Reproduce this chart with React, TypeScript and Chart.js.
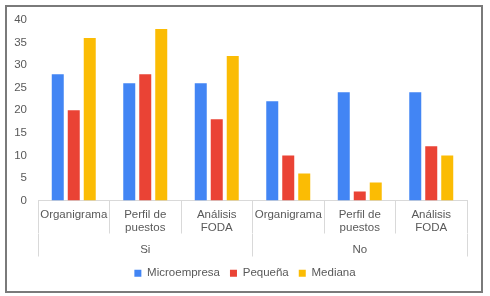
import React, { useEffect, useRef } from "react";
import { Chart, registerables } from "chart.js";

Chart.register(...registerables);

const categories: string[][] = [
  ["Organigrama"],
  ["Perfil de", "puestos"],
  ["Análisis", "FODA"],
  ["Organigrama"],
  ["Perfil de", "puestos"],
  ["Análisis", "FODA"],
];
const groups: string[] = ["Si", "No"];
const microempresa: number[] = [28, 26, 26, 22, 24, 24];
const pequena: number[] = [20, 28, 18, 10, 2, 12];
const mediana: number[] = [36, 38, 32, 6, 4, 10];
const yTicksMax = 40;
const yStep = 5;

const FONT = "'Liberation Sans', Arial, sans-serif";
const TEXT = "#595959";
const LINE = "#d9d9d9";

const legendShift = {
  id: "legendShift",
  afterLayout(chart: any) {
    const l = chart.legend;
    if (l) {
      l.left += 8;
      l.right += 8;
    }
  },
};

export default function App() {
  const ref = useRef<HTMLCanvasElement | null>(null);

  useEffect(() => {
    if (!ref.current) return;
    Chart.defaults.font.family = FONT;
    Chart.defaults.font.size = 11.5;
    Chart.defaults.color = TEXT;
    const chart = new Chart(ref.current, {
      type: "bar",
      data: {
        labels: categories as any,
        datasets: [
          { label: "Microempresa", data: microempresa, backgroundColor: "#4285F4" },
          { label: "Pequeña", data: pequena, backgroundColor: "#EA4335" },
          { label: "Mediana", data: mediana, backgroundColor: "#FBBC04" },
        ],
      },
      plugins: [legendShift],
      options: {
        animation: false,
        responsive: true,
        maintainAspectRatio: false,
        datasets: {
          bar: { categoryPercentage: 0.671, barPercentage: 0.75 },
        },
        layout: { padding: { left: 0, right: 14, top: 13, bottom: 2 } },
        plugins: {
          tooltip: { enabled: false },
          legend: {
            position: "bottom",
            labels: {
              boxWidth: 7,
              boxHeight: 7,
              padding: 10,
              color: TEXT,
              font: { size: 11.5 },
            },
          },
        },
        scales: {
          x: {
            type: "category",
            position: "bottom",
            offset: true,
            weight: 0,
            grid: {
              offset: true,
              drawOnChartArea: false,
              color: LINE,
              tickLength: 33,
            },
            border: { display: true, color: LINE },
            ticks: {
              padding: -26,
              maxRotation: 0,
              autoSkip: false,
              color: TEXT,
              font: { size: 11.5 },
            },
            afterFit: (s: any) => {
              s.height = 33;
              s.paddingLeft = 0;
              s.paddingRight = 0;
            },
          },
          x2: {
            type: "category",
            position: "bottom",
            labels: groups,
            offset: true,
            weight: 1,
            grid: {
              offset: true,
              drawOnChartArea: false,
              color: LINE,
              tickLength: 23,
            },
            border: { display: false },
            ticks: {
              padding: -14,
              maxRotation: 0,
              autoSkip: false,
              color: TEXT,
              font: { size: 11.5 },
            },
            afterFit: (s: any) => {
              s.height = 24;
              s.paddingLeft = 0;
              s.paddingRight = 0;
            },
          },
          y: {
            min: 0,
            max: yTicksMax,
            ticks: { stepSize: yStep, padding: 11, color: TEXT, font: { size: 11.5 } },
            grid: { display: false, drawTicks: false },
            border: { display: false },
            afterFit: (s: any) => {
              s.width = 31;
              s.paddingTop = 0;
              s.paddingBottom = 0;
            },
          },
        },
      } as any,
    });
    return () => chart.destroy();
  }, []);

  return (
    <>
      <style>{"body{margin:0;background:#fff}"}</style>
      <div
        style={{
          position: "absolute",
          left: 5,
          top: 5,
          width: 478,
          height: 288,
          boxSizing: "border-box",
          border: "2px solid #7a7a7a",
          background: "#fff",
        }}
      >
        <div style={{ position: "relative", width: 474, height: 284 }}>
          <canvas ref={ref} />
        </div>
      </div>
    </>
  );
}
